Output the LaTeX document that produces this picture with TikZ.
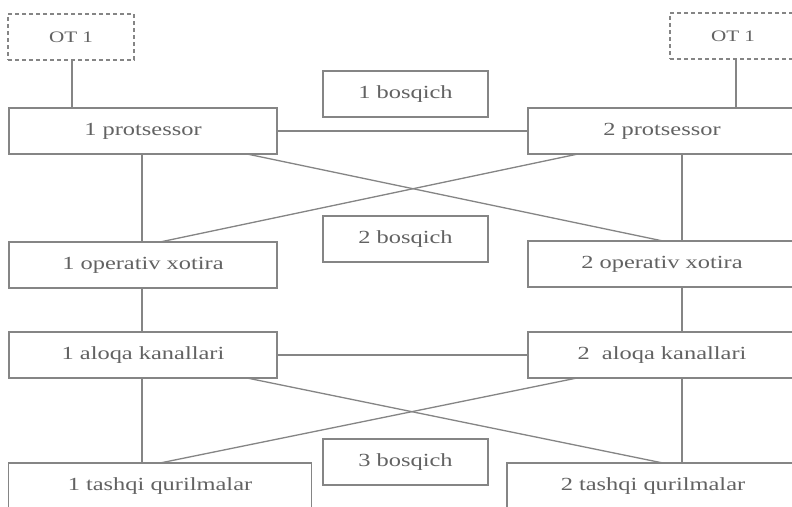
\documentclass[tikz,border=0pt]{standalone}
\usepackage{fontspec}
\setmainfont[FakeStretch=1.32]{Liberation Serif}
\definecolor{inkline}{HTML}{858585}
\definecolor{inktext}{HTML}{626262}
\begin{document}
\begin{tikzpicture}[x=1pt,y=-1pt,
  box/.style={draw=inkline, line width=1.3pt, inner sep=0pt, outer sep=0pt,
    minimum width=268pt, minimum height=46pt, text=inktext,
    font=\fontsize{18.5}{22}\selectfont},
  stagebox/.style={box, minimum width=165pt},
  osbox/.style={box, dashed, dash pattern=on 4pt off 3pt, minimum width=126pt,
    font=\fontsize{16}{20}\selectfont},
  wire/.style={draw=inkline, line width=1.3pt}]
\useasboundingbox (0,0) rectangle (792,506);
\fill[white] (0,0) rectangle (792,506);
\clip (0,0) rectangle (792,506);

% operating systems
\node[osbox] (os1) at (71,37) {OT 1};
\node[osbox] (os2) at (733,36) {OT 1};

% stage labels
\node[stagebox] (s1) at (405.5,94) {1 bosqich};
\node[stagebox] (s2) at (405.5,239) {2 bosqich};
\node[stagebox] (s3) at (405.5,462) {3 bosqich};

% left column
\node[box] (p1) at (143,131) {1 protsessor};
\node[box] (m1) at (143,265) {1 operativ xotira};
\node[box] (a1) at (143,355) {1 aloqa kanallari};
\node[box, minimum width=303pt] (t1) at (160,486) {1 tashqi qurilmalar};

% right column
\node[box] (p2) at (662,131) {2 protsessor};
\node[box] (m2) at (662,264) {2 operativ xotira};
\node[box] (a2) at (662,355) {2\ \ aloqa kanallari};
\node[box, minimum width=292pt] (t2) at (653,486) {2 tashqi qurilmalar};

% operating system links
\draw[wire] ([xshift=1pt]os1.south) -- ([xshift=-71pt]p1.north);
\draw[wire] ([xshift=3pt]os2.south) -- ([xshift=74pt]p2.north);

% processor level
\draw[wire] (p1.east) -- (p1.east -| p2.west);
\draw[wire] ([xshift=-1pt]p1.south) -- ([xshift=-1pt]m1.north);
\draw[wire] ([xshift=20pt]p2.south) -- ([xshift=20pt]m2.north);
\draw[wire] ([xshift=104pt]p1.south) -- ([xshift=1pt]m2.north);
\draw[wire] ([xshift=-84pt]p2.south) -- ([xshift=17pt]m1.north);

% memory to channels
\draw[wire] ([xshift=-1pt]m1.south) -- ([xshift=-1pt]a1.north);
\draw[wire] ([xshift=20pt]m2.south) -- ([xshift=20pt]a2.north);

% channel level
\draw[wire] (a1.east) -- (a1.east -| a2.west);
\draw[wire] ([xshift=-1pt]a1.south) -- ([xshift=-18pt]t1.north);
\draw[wire] ([xshift=20pt]a2.south) -- ([xshift=29pt]t2.north);
\draw[wire] ([xshift=104pt]a1.south) -- ([xshift=10pt]t2.north);
\draw[wire] ([xshift=-85pt]a2.south) -- (t1.north);
\end{tikzpicture}
\end{document}
